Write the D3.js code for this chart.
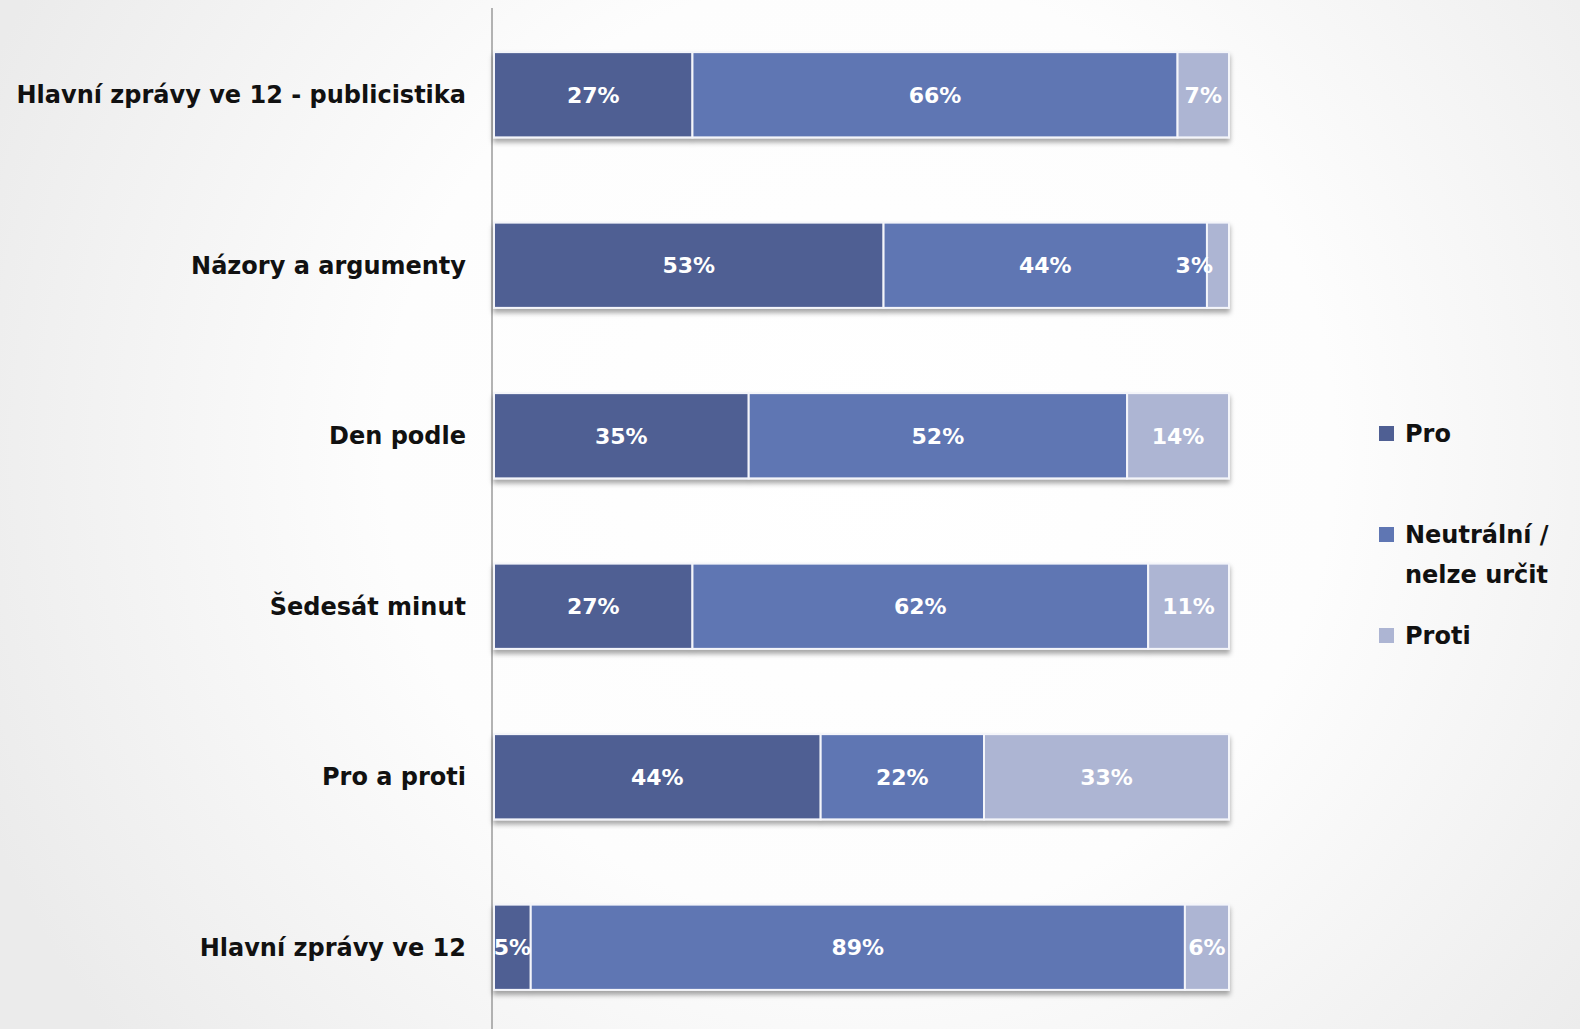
<!DOCTYPE html>
<html>
<head>
<meta charset="utf-8">
<script src="https://cdn.jsdelivr.net/npm/d3@7"></script>
<style>
html,body{margin:0;padding:0;background:#fff;}
svg{display:block;}
</style>
</head>
<body>
<svg id="chart" width="1580" height="1029"></svg>
<script>
const categories = [
  "Hlavní zprávy ve 12 - publicistika",
  "Názory a argumenty",
  "Den podle",
  "Šedesát minut",
  "Pro a proti",
  "Hlavní zprávy ve 12"
];
const seriesNames = ["Pro", "Neutrální / nelze určit", "Proti"];
const legendLines = [["Pro"], ["Neutrální /", "nelze určit"], ["Proti"]];
const proValues      = [27, 53, 35, 27, 44, 5];
const neutralValues  = [66, 44, 52, 62, 22, 89];
const protiValues    = [7, 3, 14, 11, 33, 6];
const colors = ["#4f5f93", "#5f76b3", "#adb5d3"];

const W = 1580, H = 1029;
const svg = d3.select("#chart");

// background radial gradient
const defs = svg.append("defs");
const rg = defs.append("radialGradient").attr("id", "bg")
  .attr("gradientUnits", "userSpaceOnUse")
  .attr("cx", 860).attr("cy", 450).attr("r", 950);
rg.append("stop").attr("offset", "0").attr("stop-color", "#ffffff");
rg.append("stop").attr("offset", "0.5").attr("stop-color", "#fdfdfd");
rg.append("stop").attr("offset", "1").attr("stop-color", "#ebebeb");
svg.append("rect").attr("width", W).attr("height", H).attr("fill", "url(#bg)");

const flt = defs.append("filter").attr("id", "shadow")
  .attr("x", "-5%").attr("y", "-20%").attr("width", "110%").attr("height", "150%");
flt.append("feDropShadow").attr("dx", 0).attr("dy", 4).attr("stdDeviation", 2.5)
  .attr("flood-color", "#000").attr("flood-opacity", 0.35);

const rows = categories.map((c, i) => ({
  cat: c, pro: proValues[i], neu: neutralValues[i], proti: protiValues[i]
}));
const keys = ["pro", "neu", "proti"];
const stack = d3.stack().keys(keys).offset(d3.stackOffsetExpand);
const series = stack(rows);

const x = d3.scaleLinear().domain([0, 1]).range([494, 1229]);
const y = d3.scaleBand().domain(categories).range([9.5, 1032.5])
  .paddingInner(0.5).paddingOuter(0.25);

// axis line
svg.append("line").attr("x1", 492).attr("x2", 492).attr("y1", 8).attr("y2", H)
  .attr("stroke", "#8c8c8c").attr("stroke-width", 1.3);

// bars
const rowG = svg.append("g").selectAll("g.row").data(categories).join("g")
  .attr("class", "row").attr("filter", "url(#shadow)");
rowG.each(function(cat, ri) {
  const g = d3.select(this);
  series.forEach((s, si) => {
    const d = s[ri];
    g.append("rect")
      .attr("x", x(d[0])).attr("y", y(cat))
      .attr("width", x(d[1]) - x(d[0])).attr("height", y.bandwidth())
      .attr("fill", colors[si]).attr("stroke", "#f4f5fa").attr("stroke-width", 2);
  });
});

// value labels
const lab = svg.append("g");
categories.forEach((cat, ri) => {
  series.forEach((s, si) => {
    const d = s[ri];
    const v = rows[ri][keys[si]];
    const x0 = x(d[0]), x1 = x(d[1]);
    const t = lab.append("text")
      .attr("y", y(cat) + y.bandwidth() / 2)
      .attr("dy", "0.36em")
      .attr("fill", "#ffffff")
      .attr("font-family", "DejaVu Sans, sans-serif")
      .attr("font-weight", "bold")
      .attr("font-size", 22)
      .text(v + "%");
    const w = t.node().getComputedTextLength();
    if ((x1 - x0) < 0.75 * w) {
      t.attr("text-anchor", "end").attr("x", x0 + 6);
    } else {
      t.attr("text-anchor", "middle").attr("x", (x0 + x1) / 2);
    }
  });
});

// category labels
svg.append("g").selectAll("text").data(categories).join("text")
  .attr("x", 466)
  .attr("y", d => y(d) + y.bandwidth() / 2)
  .attr("dy", "0.36em")
  .attr("text-anchor", "end")
  .attr("font-family", "DejaVu Sans, sans-serif")
  .attr("font-weight", "bold")
  .attr("font-size", 24)
  .attr("fill", "#111")
  .text(d => d);

// legend
const legendY = [433, 534, 635];
const lg = svg.append("g");
seriesNames.forEach((name, i) => {
  lg.append("rect").attr("x", 1379).attr("y", legendY[i] - 7)
    .attr("width", 15).attr("height", 15).attr("fill", colors[i]);
  const t = lg.append("text")
    .attr("x", 1405).attr("y", legendY[i])
    .attr("font-family", "DejaVu Sans, sans-serif")
    .attr("font-weight", "bold")
    .attr("font-size", 24)
    .attr("fill", "#111");
  legendLines[i].forEach((ln, li) => {
    t.append("tspan").attr("x", 1405).attr("dy", li === 0 ? "0.36em" : "1.68em").text(ln);
  });
});
</script>
</body>
</html>
